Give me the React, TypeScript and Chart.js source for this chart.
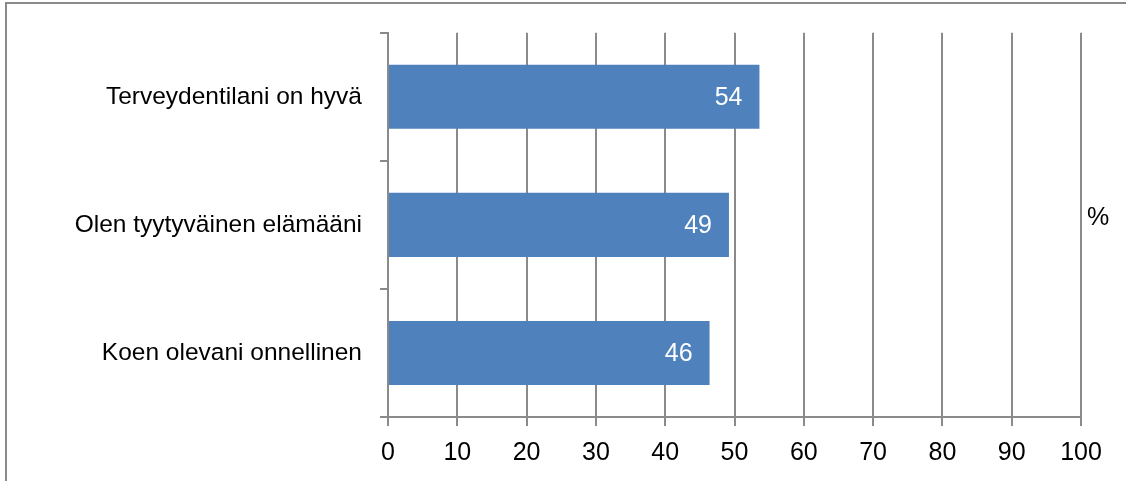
import React, { useEffect, useRef } from "react";
import { Chart, registerables } from "chart.js";

Chart.register(...registerables);

const categories = [
  "Terveydentilani on hyvä",
  "Olen tyytyväinen elämääni",
  "Koen olevani onnellinen",
];
const values = [53.6, 49.2, 46.4];
const xMin = 0;
const xMax = 100;
const xStep = 10;
const unitLabel = "%";

const FONT = "'Liberation Sans', Arial, sans-serif";
const GRID = "#8a8a8a";

export default function App() {
  const ref = useRef<HTMLCanvasElement | null>(null);

  useEffect(() => {
    if (!ref.current) return;

    const framePlugin = {
      id: "frame",
      beforeDraw(chart: any) {
        const ctx = chart.ctx;
        ctx.save();
        ctx.strokeStyle = GRID;
        ctx.lineWidth = 2;
        ctx.strokeRect(6, 3, 1400, 700);
        ctx.restore();
      },
      afterDraw(chart: any) {
        const ctx = chart.ctx;
        ctx.save();
        ctx.fillStyle = "#000";
        ctx.font = `25px ${FONT}`;
        ctx.textAlign = "center";
        ctx.textBaseline = "middle";
        ctx.fillText(unitLabel, 1098, 218);
        ctx.restore();
      },
    };

    const labelPlugin = {
      id: "valueLabels",
      afterDatasetsDraw(chart: any) {
        const ctx = chart.ctx;
        const meta = chart.getDatasetMeta(0);
        ctx.save();
        ctx.fillStyle = "#ffffff";
        ctx.font = `25px ${FONT}`;
        ctx.textAlign = "right";
        ctx.textBaseline = "middle";
        meta.data.forEach((el: any, i: number) => {
          const v = chart.data.datasets[0].data[i] as number;
          ctx.fillText(String(Math.round(v)), el.x - 17, el.y + 1);
        });
        ctx.restore();
      },
    };

    const chart = new Chart(ref.current, {
      type: "bar",
      data: {
        labels: categories,
        datasets: [
          {
            data: values,
            backgroundColor: "#4f81bd",
            borderWidth: 0,
            barPercentage: 0.5,
            categoryPercentage: 1,
          },
        ],
      },
      options: {
        indexAxis: "y",
        responsive: false,
        animation: false,
        devicePixelRatio: 1,
        layout: { padding: { top: 31, left: 0, right: 45, bottom: 0 } },
        plugins: {
          legend: { display: false },
          tooltip: { enabled: false },
          title: { display: false },
        },
        scales: {
          x: {
            type: "linear",
            min: xMin,
            max: xMax,
            ticks: {
              stepSize: xStep,
              color: "#000",
              font: { family: FONT, size: 25 },
              padding: 12,
            },
            grid: {
              color: GRID,
              lineWidth: 2,
              tickLength: 9,
              drawOnChartArea: true,
              drawTicks: true,
            },
            border: { color: GRID, width: 2 },
            afterFit: (s: any) => {
              s.height = 64;
            },
          },
          y: {
            type: "category",
            ticks: {
              color: "#000",
              font: { family: FONT, size: 24.5 },
              padding: 18,
            },
            grid: {
              color: GRID,
              lineWidth: 2,
              tickLength: 8,
              offset: true,
              drawOnChartArea: false,
              drawTicks: true,
            },
            border: { color: GRID, width: 2 },
            afterFit: (s: any) => {
              s.width = 388;
            },
          },
        },
      },
      plugins: [framePlugin, labelPlugin],
    });

    return () => chart.destroy();
  }, []);

  return (
    <div style={{ position: "fixed", left: 0, top: 0, width: 1126, height: 481, background: "#fff" }}>
      <canvas ref={ref} width={1126} height={481} style={{ display: "block" }} />
    </div>
  );
}
